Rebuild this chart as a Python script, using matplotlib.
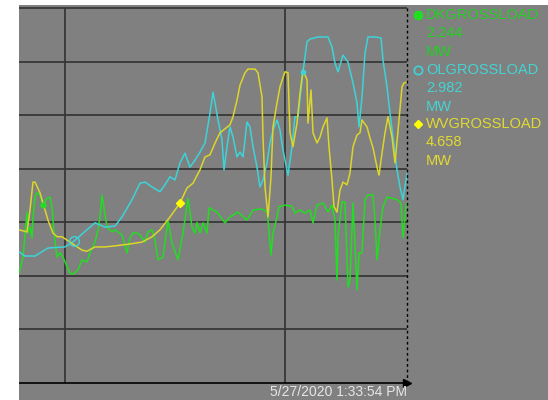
import matplotlib
matplotlib.use("Agg")
import matplotlib.pyplot as plt
from matplotlib.patches import Rectangle

# ---- data (x = sample index along time axis, y = load in grid units) ----
dk_points = [(0, 2.05), (4, 2.35), (8, 3.19), (9, 2.80), (11, 2.91), (13, 2.71), (14, 3.10),
             (16, 3.47), (18, 3.55), (21, 3.51), (24, 3.32), (28, 3.45), (31, 3.47), (33, 3.29),
             (35, 2.80), (38, 2.35), (41, 2.43), (44, 2.35), (48, 2.17), (51, 2.05), (54, 2.03),
             (59, 2.11), (63, 2.30), (68, 2.26), (71, 2.43), (76, 2.63), (79, 2.86), (81, 3.10),
             (83, 3.51), (85, 3.27), (88, 2.91), (93, 2.82), (96, 2.86), (99, 2.82), (103, 2.76),
             (108, 2.43), (111, 2.71), (114, 2.80), (118, 2.80), (121, 2.76), (126, 2.63),
             (129, 2.82), (133, 2.86), (136, 2.67), (139, 2.30), (144, 2.35), (149, 3.04),
             (153, 2.61), (159, 2.30), (164, 2.80), (169, 3.45), (173, 2.91), (176, 2.80),
             (178, 3.00), (181, 2.80), (184, 2.99), (188, 2.80), (190, 3.27), (198, 3.19),
             (206, 2.99), (211, 3.10), (219, 3.19), (228, 3.04), (234, 3.23), (243, 3.25),
             (248, 3.19), (249, 3.04), (252, 2.39), (254, 2.80), (258, 3.10), (260, 3.29),
             (266, 3.32), (273, 3.30), (276, 3.17), (281, 3.23), (286, 3.17), (291, 3.23),
             (294, 2.99), (298, 3.32), (304, 3.36), (309, 3.19), (313, 3.32), (316, 3.04),
             (318, 1.92), (319, 2.73), (323, 3.38), (326, 3.38), (329, 1.79), (331, 1.92),
             (334, 3.36), (338, 1.74), (340, 2.43), (343, 2.43), (346, 3.42), (349, 3.51),
             (354, 3.51), (356, 3.04), (358, 2.30), (361, 2.86), (364, 3.29), (368, 3.47),
             (373, 3.45), (378, 3.42), (382, 3.36), (384, 2.71), (387, 3.30), (388, 3.36)]

ol_points = [(0, 2.45), (6, 2.37), (16, 2.37), (29, 2.52), (46, 2.54), (55, 2.65), (76, 2.99),
             (86, 2.91), (96, 2.93), (103, 3.10), (113, 3.42), (121, 3.73), (126, 3.75),
             (133, 3.66), (141, 3.57), (146, 3.70), (151, 3.85), (156, 3.79), (161, 4.11),
             (166, 4.29), (171, 4.03), (176, 4.16), (181, 4.31), (186, 4.48), (191, 5.04),
             (194, 5.43), (196, 5.23), (199, 4.91), (203, 4.54), (205, 3.98), (208, 4.41),
             (211, 4.78), (214, 4.59), (218, 4.22), (221, 4.31), (224, 4.22), (228, 4.87),
             (231, 4.78), (234, 4.41), (238, 4.03), (241, 3.66), (244, 3.79), (248, 4.11),
             (251, 4.48), (254, 4.72), (258, 4.91), (261, 4.72), (264, 4.35), (269, 3.88),
             (273, 4.41), (276, 4.97), (279, 4.97), (284, 5.81), (288, 6.37), (291, 6.42),
             (299, 6.46), (309, 6.46), (313, 6.27), (316, 5.97), (319, 5.81), (324, 6.12),
             (329, 5.99), (334, 5.60), (338, 5.23), (340, 4.78), (343, 5.34), (346, 6.16),
             (349, 6.46), (356, 6.46), (362, 6.44), (364, 6.03), (368, 5.53), (371, 5.04),
             (374, 4.59), (378, 3.98), (381, 3.66), (384, 3.42), (388, 3.92)]

wv_points = [(0, 2.86), (8, 2.82), (11, 3.23), (14, 3.75), (16, 3.75), (21, 3.55), (26, 3.23),
             (29, 3.04), (34, 2.80), (38, 2.73), (43, 2.73), (51, 2.63), (63, 2.48), (68, 2.46),
             (76, 2.54), (86, 2.54), (96, 2.56), (109, 2.59), (123, 2.63), (133, 2.73),
             (141, 2.86), (151, 3.10), (161, 3.36), (168, 3.64), (174, 3.73), (181, 3.98),
             (186, 4.22), (191, 4.26), (196, 4.48), (201, 4.67), (211, 4.82), (214, 4.97),
             (218, 5.28), (221, 5.56), (226, 5.79), (229, 5.86), (236, 5.86), (239, 5.79),
             (243, 5.34), (244, 4.59), (246, 3.66), (248, 3.29), (249, 3.10), (252, 3.85),
             (254, 4.78), (258, 5.23), (261, 5.53), (266, 5.81), (269, 5.79), (271, 4.67),
             (274, 4.41), (278, 4.85), (281, 5.41), (284, 5.84), (288, 5.66), (289, 4.85),
             (292, 5.47), (294, 4.67), (298, 4.48), (301, 4.59), (304, 4.78), (308, 4.95),
             (310, 4.41), (313, 3.79), (315, 3.29), (318, 3.19), (321, 3.60), (324, 3.75),
             (328, 3.70), (331, 3.92), (334, 4.41), (338, 4.63), (341, 4.67), (343, 4.91),
             (348, 4.78), (351, 4.57), (354, 4.39), (358, 4.03), (360, 3.88), (363, 4.29),
             (366, 4.67), (369, 4.97), (373, 4.59), (376, 4.11), (380, 4.91), (383, 5.53),
             (385, 5.60), (388, 5.62)]

series_names = ["DKGROSSLOAD", "OLGROSSLOAD", "WVGROSSLOAD"]
series_values = ["2.244", "2.982", "4.658"]
series_units = ["MW", "MW", "MW"]
timestamp = "5/27/2020 1:33:54 PM"

# marker positions on the traces
dk_marker = (24, 3.32)
ol_marker = (55, 2.65)
ol_dot = (284, 5.81)
wv_marker = (161, 3.36)

x_end = 388
y_top = 7
vgrid_x = [46, 266]

line_colors = ["#22dd22", "#3cd4d8", "#dcd62a"]
text_colors = ["#22d022", "#44d4d4", "#e2da30"]

# ---- figure ----
fig = plt.figure(figsize=(5.48, 4.0), dpi=100, facecolor="white")
bg = Rectangle((19 / 548, 0), 1 - 19 / 548, 395 / 400,
               transform=fig.transFigure, facecolor="#808080",
               edgecolor="none", zorder=-10)
fig.patches.append(bg)

ax = fig.add_axes([19 / 548, 1 - 383 / 400, (407 - 19) / 548, (383 - 8) / 400])
ax.set_zorder(2)
ax.set_facecolor("#808080")
ax.set_xlim(0, x_end)
ax.set_ylim(0, y_top)
for s in ax.spines.values():
    s.set_visible(False)
ax.set_xticks([])
ax.set_yticks([])

grid_c = "#363636"
for yv in range(1, y_top + 1):
    ax.plot([0, x_end], [yv, yv], color=grid_c, lw=1.4, zorder=1, alpha=0.9,
            clip_on=False, solid_capstyle="butt")
for xv in vgrid_x:
    ax.plot([xv, xv], [0, y_top], color=grid_c, lw=1.4, zorder=1, alpha=0.9,
            clip_on=False, solid_capstyle="butt")

# bottom axis with arrow and dotted right edge
ax.plot([0, x_end], [0, 0], color="black", lw=1.2, zorder=5, clip_on=False,
        solid_capstyle="butt")
ax.plot([x_end], [0], marker=">", color="black", ms=6, zorder=6, clip_on=False)
ax.plot([x_end, x_end], [0, y_top], color="black", lw=1.0, ls=(0, (2, 2)),
        zorder=5, clip_on=False)

for pts, c in zip([dk_points, ol_points, wv_points], line_colors):
    xs = [p[0] for p in pts]
    ys = [p[1] for p in pts]
    ax.plot(xs, ys, color=c, lw=1.1, zorder=3, solid_joinstyle="round")

ax.plot(*dk_marker, marker="o", color=line_colors[0], ms=3.5, zorder=4)
ax.plot(*ol_marker, marker="o", mfc="none", mec=line_colors[1], mew=1.0, ms=7, zorder=4)
ax.plot(*ol_dot, marker="o", color=line_colors[1], ms=3, zorder=4)
ax.plot(*wv_marker, marker="D", color="#ffff00", ms=4.5, zorder=4)

# timestamp
fig.text(407 / 548, 1 - 392 / 400, timestamp, ha="right", va="center",
         fontsize=10, color="#e6e6e6", family="Liberation Sans", zorder=5)

# legend block
legend_markers = [dict(marker="o", color=line_colors[0], ms=6),
                  dict(marker="o", mfc="none", mec=line_colors[1], mew=1.2, ms=6),
                  dict(marker="D", color="#ffff00", ms=4.5)]
block_top = [15, 70, 124]
for i in range(3):
    y0 = block_top[i]
    fig.lines.append(plt.Line2D([418 / 548], [1 - y0 / 400], transform=fig.transFigure,
                                linestyle="none", zorder=5, **legend_markers[i]))
    for k, txt in enumerate([series_names[i], series_values[i], series_units[i]]):
        fig.text(426 / 548, 1 - (y0 + 18.3 * k) / 400, txt, ha="left", va="center",
                 fontsize=10.5, color=text_colors[i], family="Liberation Sans", zorder=5)

fig.savefig("out.png", dpi=100, facecolor="white")
